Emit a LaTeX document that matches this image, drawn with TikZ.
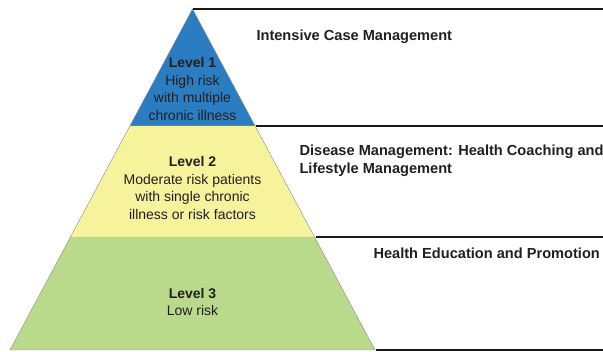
\documentclass[tikz,border=0pt]{standalone}
\usepackage{fontspec}
\setmainfont{Liberation Sans}
\usetikzlibrary{calc}

\definecolor{tierblue}{HTML}{2A7DC0}
\definecolor{tieryellow}{HTML}{F7F29C}
\definecolor{tiergreen}{HTML}{B9D98B}
\definecolor{textgray}{HTML}{231F20}

\tikzset{
	tier/.style={draw=black!45, line width=0.4pt},
	tiertext/.style={align=center, text=textgray, font=\fontsize{14}{17.6}\selectfont},
	label/.style={anchor=west, align=left, text=textgray, font=\bfseries\fontsize{14.6}{17.6}\selectfont},
	rule/.style={line width=1.8pt, black!90}
}

\begin{document}
\begin{tikzpicture}[x=1pt, y=-1pt]
\useasboundingbox (0,0) rectangle (603,352);

% Pyramid corners
\coordinate (apex) at (192.5,9);
\coordinate (l1) at (129.9,126);
\coordinate (r1) at (255.1,126);
\coordinate (l2) at (70.5,237);
\coordinate (r2) at (314.5,237);
\coordinate (l3) at (10,350);
\coordinate (r3) at (375,350);

% Tiers
\fill[tierblue] (apex) -- (r1) -- (l1) -- cycle;
\fill[tieryellow] (l1) -- (r1) -- (r2) -- (l2) -- cycle;
\fill[tiergreen] (l2) -- (r2) -- (r3) -- (l3) -- cycle;
\draw[tier] (apex) -- (r3) -- (l3) -- cycle;

% Rules to the right
\coordinate (e0) at (603,9);
\coordinate (e1) at (603,126);
\coordinate (e2) at (603,237);
\coordinate (e3) at (603,350);
\draw[rule] (apex) -- (e0);
\draw[rule] ($(r1)+(1,0)$) -- (e1);
\draw[rule] ($(r2)+(1,0)$) -- (e2);
\draw[rule] ($(r3)+(1,0)$) -- (e3);

% Tier texts
\node[tiertext] (level1) at (192.5,89) {\textbf{Level 1}\\High risk\\with multiple\\chronic illness};
\node[tiertext] (level2) at (192.5,188) {\textbf{Level 2}\\Moderate risk patients\\with single chronic\\illness or risk factors};
\node[tiertext] (level3) at (192.5,302) {\textbf{Level 3}\\Low risk};

% Programme labels
\node[label] (care1) at (253,37) {Intensive Case Management};
\node[label] (care2) at (296,161) {Disease Management: Health Coaching and\\Lifestyle Management};
\node[label] (care3) at (370,253) {Health Education and Promotion};
\end{tikzpicture}
\end{document}
